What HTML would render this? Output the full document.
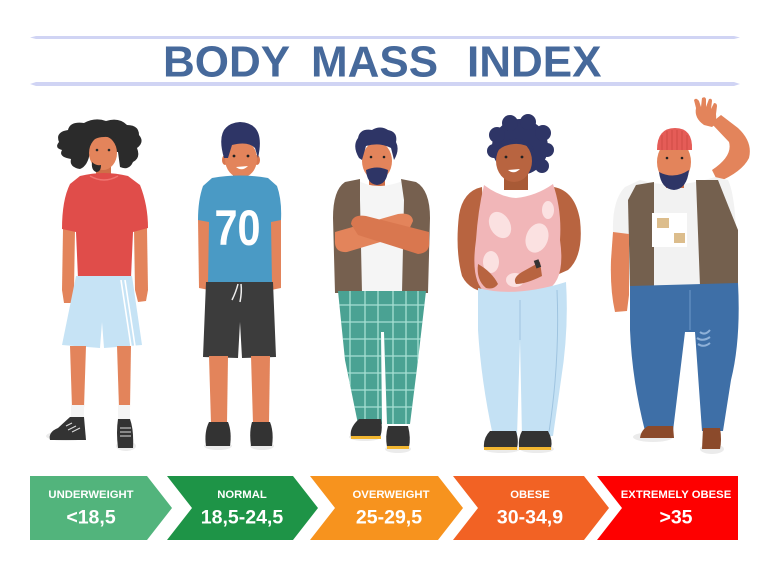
<!DOCTYPE html>
<html>
<head>
<meta charset="utf-8">
<style>
html,body{margin:0;padding:0;background:#fff;}
svg{display:block;}
text{font-family:"Liberation Sans",Arial,sans-serif;font-weight:bold;}
</style>
</head>
<body>
<svg width="768" height="580" viewBox="0 0 768 580" xmlns="http://www.w3.org/2000/svg">
<rect width="768" height="580" fill="#fff"/>

<!-- Title lines -->
<path d="M30 37.5 L36 36 L734 36 L740 37.5 L734 39 L36 39 Z" fill="#d0d4f4"/>
<path d="M30 84 L36 82 L734 82 L740 84 L734 86 L36 86 Z" fill="#d0d4f4"/>
<!-- Title -->
<g fill="#46699b" font-size="44">
<text x="163" y="76.5">BODY</text>
<text x="311" y="76.5">MASS</text>
<text x="467" y="76.5">INDEX</text>
</g>

<!-- ============ Figure 1: underweight ============ -->
<g>
<ellipse cx="66" cy="436" rx="20" ry="5" fill="#ebebeb"/>
<ellipse cx="126" cy="446" rx="10" ry="5" fill="#ebebeb"/>
<!-- hair back -->
<path d="M59 142 Q55 132 68 130 Q70 121 84 123 Q95 117 106 121 Q119 117 127 125 Q139 125 139 135 Q145 142 137 148 Q141 158 133 162 Q129 171 120 167 L118 152 L90 152 Q88 166 80 169 Q69 167 71 159 Q58 157 62 150 Q54 148 59 142 Z" fill="#2b2b2b"/>
<!-- neck -->
<rect x="96" y="164" width="15" height="16" fill="#cf6f48"/>
<!-- face -->
<ellipse cx="103" cy="153" rx="14" ry="17" fill="#e3845b"/>
<path d="M88 145 Q92 130 104 131 Q116 131 118 145 Q112 136 104 137 Q94 137 88 145 Z" fill="#2b2b2b"/>
<path d="M92 162 Q96 166 101 165 Q101 172 96 172 Q91 170 92 162 Z" fill="#2b2b2b"/>
<circle cx="97" cy="150" r="1.3" fill="#2b2b2b"/>
<circle cx="109" cy="150" r="1.3" fill="#2b2b2b"/>
<!-- arms -->
<path d="M63 229 L75 229 L74 290 L73 303 L64 303 L62 290 Z" fill="#e3845b"/>
<path d="M134 229 L147 228 L148 290 L146 301 L138 302 L135 290 Z" fill="#e3845b"/>
<!-- shirt -->
<path d="M80 176 Q104 170 128 176 L140 185 Q148 205 148 228 L133 232 L131 278 L78 278 L76 232 L62 229 Q62 200 70 184 Z" fill="#e04d4a"/>
<path d="M90 176 Q104 184 118 176" fill="none" stroke="#f07470" stroke-width="1.5"/>
<!-- shorts -->
<path d="M76 276 L132 276 L142 345 L104 348 L102 322 L100 348 L62 345 Z" fill="#c6e3f5"/>
<path d="M121 280 L131 346 M125 280 L135 346" stroke="#fff" stroke-width="1.6"/>
<!-- legs -->
<path d="M70 346 L86 346 L84 408 L72 408 Z" fill="#e3845b"/>
<path d="M117 346 L131 346 L130 408 L119 408 Z" fill="#e3845b"/>
<rect x="71" y="405" width="13" height="14" fill="#f4f4f4"/>
<rect x="118" y="405" width="12" height="15" fill="#f4f4f4"/>
<!-- shoes -->
<path d="M70 417 L84 417 L86 440 L50 440 Q48 432 58 428 Z" fill="#333"/>
<path d="M118 419 L130 419 Q134 430 133 448 L118 448 Q116 432 118 419 Z" fill="#333"/>
<path d="M66 426 L72 423 M68 430 L76 426 M72 432 L80 428" stroke="#ddd" stroke-width="1"/>
<path d="M120 428 L131 428 M120 432 L131 432 M120 436 L131 436" stroke="#ddd" stroke-width="1"/>
</g>

<!-- ============ Figure 2: normal ============ -->
<g>
<ellipse cx="218" cy="446" rx="14" ry="4" fill="#ebebeb"/>
<ellipse cx="262" cy="446" rx="12" ry="4" fill="#ebebeb"/>
<!-- arms behind back -->
<path d="M198 219 L209 221 L209 290 L199 288 Z" fill="#e3845b"/>
<path d="M271 221 L281 219 L281 288 L271 290 Z" fill="#e3845b"/>
<!-- neck -->
<rect x="233" y="170" width="15" height="14" fill="#cf6f48"/>
<!-- ears -->
<ellipse cx="225" cy="160" rx="3" ry="5" fill="#d9774f"/>
<ellipse cx="257" cy="160" rx="3" ry="5" fill="#d9774f"/>
<!-- face -->
<ellipse cx="241" cy="159" rx="16" ry="19" fill="#e3845b"/>
<!-- hair -->
<path d="M224 158 Q214 124 240 122 Q266 123 258 158 L255 148 Q248 141 232 145 L228 158 Z" fill="#2e3566"/>
<circle cx="234" cy="156" r="1.4" fill="#222"/>
<circle cx="248" cy="156" r="1.4" fill="#222"/>
<path d="M236 167 Q242 172 248 166 Z" fill="#fff"/>
<!-- shirt -->
<path d="M212 178 Q240 173 268 178 L277 186 Q282 200 281 220 L271 222 L272 284 L208 284 L209 222 L198 220 Q198 200 203 186 Z" fill="#4a9ac5"/>
<text x="237.5" y="245" font-size="50" fill="#fff" text-anchor="middle" textLength="46" lengthAdjust="spacingAndGlyphs">70</text>
<!-- shorts -->
<path d="M206 282 L273 282 L276 357 L242 358 L240 322 L238 358 L203 357 Z" fill="#3c3c3c"/>
<path d="M238 284 Q236 292 232 300 M241 284 Q242 292 240 302" stroke="#eee" stroke-width="1.5" fill="none"/>
<!-- legs -->
<path d="M209 356 L228 356 L227 424 L211 424 Z" fill="#e3845b"/>
<path d="M251 356 L270 356 L269 424 L253 424 Z" fill="#e3845b"/>
<!-- shoes -->
<path d="M209 422 L228 422 Q232 432 230 446 L206 446 Q204 432 209 422 Z" fill="#333"/>
<path d="M252 422 L270 422 Q274 432 272 446 L251 446 Q249 432 252 422 Z" fill="#333"/>
</g>

<!-- ============ Figure 3: overweight ============ -->
<g>
<ellipse cx="365" cy="437" rx="16" ry="4" fill="#ebebeb"/>
<ellipse cx="398" cy="449" rx="13" ry="4" fill="#ebebeb"/>
<!-- neck -->
<rect x="369" y="174" width="16" height="12" fill="#cf6f48"/>
<!-- face -->
<ellipse cx="377" cy="161" rx="15" ry="19" fill="#e3845b"/>
<!-- hair -->
<path d="M359 158 Q352 146 358 138 Q360 128 372 130 Q380 125 388 130 Q398 132 396 142 Q400 150 394 160 L391 148 Q380 142 366 146 L362 160 Z" fill="#2e3566"/>
<path d="M366 170 Q377 165 388 170 Q387 184 377 185 Q367 184 366 170 Z" fill="#2e3566"/>
<circle cx="371" cy="157" r="1.3" fill="#222"/>
<circle cx="384" cy="157" r="1.3" fill="#222"/>
<!-- tank -->
<path d="M357 180 Q377 192 405 180 L406 292 L357 292 Z" fill="#f5f5f5"/>
<!-- vest -->
<path d="M360 179 L345 182 Q333 190 333 218 L335 293 L362 293 L360 200 Z" fill="#76604f"/>
<path d="M401 179 L416 182 Q430 190 430 218 L428 293 L402 293 L404 200 Z" fill="#76604f"/>
<!-- crossed arms -->
<path d="M335 232 L398 214 Q412 212 413 221 L407 234 L347 252 Q334 253 335 240 Z" fill="#e3845b"/>
<path d="M429 232 L366 216 Q352 214 351 224 L358 235 L418 254 Q431 253 429 240 Z" fill="#d9774f"/>
<!-- pants -->
<clipPath id="pc">
<path d="M338 291 L426 291 L418 360 L410 424 L387 424 L384 332 L381 332 L382 424 L358 424 L345 360 Z"/>
</clipPath>
<path d="M338 291 L426 291 L418 360 L410 424 L387 424 L384 332 L381 332 L382 424 L358 424 L345 360 Z" fill="#4aa293"/>
<g clip-path="url(#pc)" stroke="#a6e0d4" stroke-width="1.3">
<path d="M335 305 H430 M335 322 H430 M335 339 H430 M335 356 H430 M335 373 H430 M335 390 H430 M335 407 H430"/>
<path d="M350 290 V430 M365 290 V430 M378 290 V430 M393 290 V430 M406 290 V430 M418 290 V430"/>
</g>
<!-- shoes -->
<path d="M359 419 L381 419 Q383 430 380 437 L351 437 Q349 428 359 419 Z" fill="#333"/>
<rect x="351" y="436" width="30" height="3" fill="#f2b630"/>
<path d="M388 426 L408 426 Q411 438 409 447 L387 447 Q385 436 388 426 Z" fill="#333"/>
<rect x="387" y="446" width="22" height="3" fill="#f2b630"/>
</g>

<!-- ============ Figure 4: obese ============ -->
<g>
<ellipse cx="502" cy="449" rx="18" ry="4" fill="#ebebeb"/>
<ellipse cx="537" cy="449" rx="17" ry="4" fill="#ebebeb"/>
<!-- hair -->
<g fill="#2e3566">
<circle cx="520" cy="147" r="28"/>
<circle cx="497" cy="135" r="8"/>
<circle cx="510" cy="123" r="8"/>
<circle cx="528" cy="122" r="8"/>
<circle cx="543" cy="133" r="8"/>
<circle cx="547" cy="150" r="7"/>
<circle cx="542" cy="166" r="7"/>
<circle cx="494" cy="151" r="7"/>
</g>
<!-- neck -->
<rect x="504" y="174" width="24" height="16" fill="#a85a36"/>
<!-- face -->
<ellipse cx="514" cy="161" rx="18" ry="21" fill="#b86440"/>
<path d="M497 152 Q500 140 514 139 Q530 138 534 150 Q524 143 514 144 Q502 145 497 152 Z" fill="#2e3566"/>
<circle cx="506" cy="157" r="1.4" fill="#222"/>
<circle cx="522" cy="157" r="1.4" fill="#222"/>
<path d="M508 170 Q514 175 520 169 Z" fill="#fff"/>
<!-- arms/shoulders -->
<path d="M482 187 Q463 191 459 215 Q455 250 462 276 Q470 292 492 293 L500 286 L480 266 L483 215 Z" fill="#b86440"/>
<path d="M554 187 Q575 191 580 220 Q584 256 568 270 L532 286 L526 272 L558 254 L557 215 Z" fill="#b86440"/>
<!-- tank -->
<path d="M484 185 Q500 197 516 198 Q536 196 553 184 Q562 210 560 240 Q566 282 545 291 Q515 300 486 293 Q470 282 476 240 Q478 210 484 185 Z" fill="#f1b6b8"/>
<g fill="#fbe1e1">
<ellipse cx="500" cy="225" rx="10" ry="14" transform="rotate(-30 500 225)"/>
<ellipse cx="537" cy="238" rx="11" ry="15" transform="rotate(20 537 238)"/>
<ellipse cx="491" cy="262" rx="8" ry="11"/>
<ellipse cx="548" cy="210" rx="6" ry="9"/>
<ellipse cx="515" cy="280" rx="9" ry="7"/>
</g>
<!-- hands on belly -->
<path d="M478 264 Q492 272 498 284 Q494 290 486 288 Q476 280 478 264 Z" fill="#b86440"/>
<path d="M540 262 L522 272 Q512 278 516 284 Q526 284 542 276 Z" fill="#b86440"/>
<rect x="535" y="260" width="5" height="8" fill="#333" transform="rotate(-20 537 264)"/>
<!-- jeans -->
<path d="M478 288 Q515 298 566 282 Q569 330 561 380 L553 436 L522 436 L520 340 L517 436 L493 436 Q481 380 478 330 Z" fill="#c4e1f4"/>
<path d="M520 300 L520 340" stroke="#9fc4e0" stroke-width="1"/>
<path d="M557 290 Q560 360 549 432" stroke="#9fc4e0" stroke-width="1" fill="none"/>
<!-- shoes -->
<path d="M490 431 L516 431 Q519 440 517 448 L484 448 Q483 438 490 431 Z" fill="#333"/>
<rect x="484" y="447" width="33" height="3" fill="#f2b630"/>
<path d="M522 431 L548 431 Q553 440 551 448 L519 448 Q518 438 522 431 Z" fill="#333"/>
<rect x="519" y="447" width="32" height="3" fill="#f2b630"/>
</g>

<!-- ============ Figure 5: extremely obese ============ -->
<g>
<ellipse cx="653" cy="437" rx="20" ry="5" fill="#ebebeb"/>
<ellipse cx="712" cy="449" rx="12" ry="5" fill="#ebebeb"/>
<!-- raised arm -->
<path d="M718 182 Q742 172 749 158 Q753 142 738 128 L721 115 L711 123 L729 142 Q733 156 712 170 Z" fill="#e3845b"/>
<!-- hand -->
<path d="M704 125 Q694 118 696 108 L694 100 Q696 97 699 101 L701 107 L702 98 Q705 96 706 99 L706 107 L709 99 Q712 98 712 101 L711 109 L714 103 Q717 103 717 106 L716 114 Q717 124 712 127 Z" fill="#e3845b"/>
<!-- shirt -->
<path d="M640 180 Q675 190 715 177 L728 180 Q738 200 737 286 L630 290 L630 235 L613 232 Q612 200 625 187 Z" fill="#f2f2f2"/>
<!-- neck/face -->
<rect x="666" y="176" width="18" height="12" fill="#cf6f48"/>
<ellipse cx="674" cy="162" rx="17" ry="22" fill="#e3845b"/>
<path d="M659 172 Q674 180 689 170 Q687 189 674 190 Q661 189 659 172 Z" fill="#2e3566"/>
<path d="M657 150 Q657 128 675 128 Q693 128 692 150 Z" fill="#e55c57"/>
<path d="M662 135 V150 M667 131 V150 M672 130 V150 M677 130 V150 M682 131 V150 M687 135 V150" stroke="#c94843" stroke-width="0.8"/>
<circle cx="667" cy="158" r="1.3" fill="#222"/>
<circle cx="682" cy="158" r="1.3" fill="#222"/>
<!-- vest -->
<path d="M636 185 L654 182 L654 286 L630 288 L628 200 Z" fill="#74604e"/>
<path d="M696 180 L718 180 Q729 208 738 230 L738 286 L700 286 Z" fill="#74604e"/>
<!-- patch -->
<rect x="652" y="213" width="35" height="34" fill="#fff"/>
<rect x="657" y="218" width="12" height="10" fill="#dcbd8c"/>
<rect x="674" y="233" width="11" height="10" fill="#dcbd8c"/>
<!-- left arm -->
<path d="M613 232 L629 234 L629 295 L627 311 L615 312 Q610 290 611 260 Z" fill="#e3845b"/>
<!-- jeans -->
<path d="M630 286 L738 283 Q741 340 731 380 L723 431 L702 431 L695 332 L685 332 L673 431 L645 431 Q632 380 630 330 Z" fill="#3e6fa7"/>
<path d="M690 290 L690 330" stroke="#6f98c8" stroke-width="1"/>
<path d="M700 332 Q705 336 710 330 M697 338 Q703 342 710 337 M698 344 Q704 348 710 343" stroke="#8fb1d8" stroke-width="2" fill="none"/>
<!-- shoes -->
<path d="M648 426 L673 426 L674 438 L640 438 Q641 430 648 426 Z" fill="#8b4a2b"/>
<path d="M703 428 L720 428 Q722 440 720 449 L702 449 Z" fill="#8b4a2b"/>
</g>

<!-- ============ Arrows ============ -->
<polygon points="30,476 147,476 172,508 147,540 30,540" fill="#52b47c"/>
<polygon points="167,476 293,476 318,508 293,540 167,540 192,508" fill="#1e9447"/>
<polygon points="310,476 438,476 463,508 438,540 310,540 335,508" fill="#f7931e"/>
<polygon points="453,476 584,476 609,508 584,540 453,540 478,508" fill="#f26224"/>
<polygon points="597,476 738,476 738,540 597,540 622,508" fill="#fe0000"/>

<g fill="#fff" text-anchor="middle">
<text x="91" y="498" font-size="11.3">UNDERWEIGHT</text>
<text x="91" y="523.5" font-size="19.5">&lt;18,5</text>
<text x="242" y="498" font-size="11.3">NORMAL</text>
<text x="242" y="523.5" font-size="19.5">18,5-24,5</text>
<text x="391" y="498" font-size="11.3">OVERWEIGHT</text>
<text x="389" y="523.5" font-size="19.5">25-29,5</text>
<text x="530" y="498" font-size="11.3">OBESE</text>
<text x="530" y="523.5" font-size="19.5">30-34,9</text>
<text x="676" y="498" font-size="11.3">EXTREMELY OBESE</text>
<text x="676" y="523.5" font-size="19.5">&gt;35</text>
</g>
</svg>
</body>
</html>
